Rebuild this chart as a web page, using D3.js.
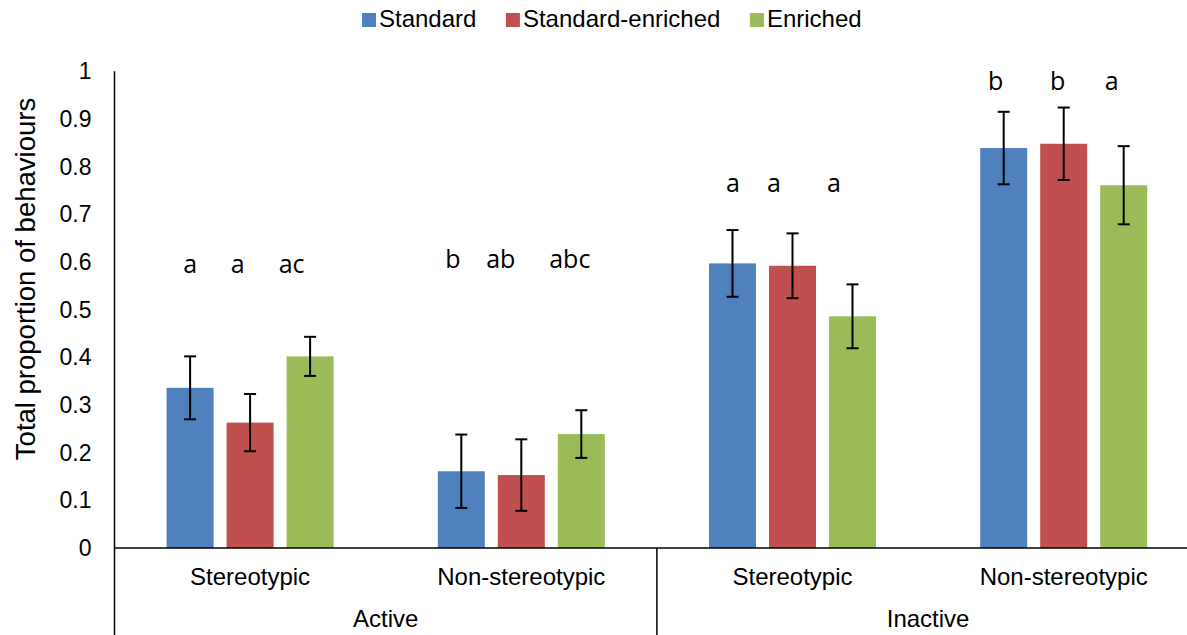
<!DOCTYPE html>
<html>
<head>
<meta charset="utf-8">
<script src="https://cdn.jsdelivr.net/npm/d3@7"></script>
<style>
  html, body { margin: 0; padding: 0; background: #ffffff; }
  svg { display: block; }
</style>
</head>
<body>
<svg id="chart" width="1187" height="635"></svg>
<script>
// Behaviour categories within each activity state
const categories = ["Stereotypic", "Non-stereotypic", "Stereotypic", "Non-stereotypic"];
const states = ["Active", "Active", "Inactive", "Inactive"];
const stateLabels = ["Active", "Inactive"];

// Housing treatments
const seriesNames = ["Standard", "Standard-enriched", "Enriched"];

// Mean total proportion of behaviours
const standard = [0.336, 0.161, 0.597, 0.839];
const standardEnriched = [0.263, 0.153, 0.592, 0.848];
const enriched = [0.402, 0.239, 0.486, 0.761];

// Error bar half-widths
const standardErr = [0.066, 0.077, 0.070, 0.076];
const standardEnrichedErr = [0.060, 0.075, 0.068, 0.076];
const enrichedErr = [0.041, 0.050, 0.067, 0.082];

// Significance letters
const standardLetters = ["a", "b", "a", "b"];
const standardEnrichedLetters = ["a", "ab", "a", "b"];
const enrichedLetters = ["ac", "abc", "a", "a"];

// Y axis ticks
const yTicks = [0, 0.1, 0.2, 0.3, 0.4, 0.5, 0.6, 0.7, 0.8, 0.9, 1];
const yTickLabels = ["0", "0.1", "0.2", "0.3", "0.4", "0.5", "0.6", "0.7", "0.8", "0.9", "1"];

// ---- layout ----
const colors = ["#4F81BD", "#C0504D", "#9BBB59"];
const plotLeft = 114.5, plotRight = 1199.3;
const plotTop = 71.3, plotBottom = 548;
const letterLevel = [0.577, 0.587, 0.746, 0.960];       // baseline height of letters, in axis units
const letterDx = [[0, -12.5, -18.5], [-8.5, -20.5, -11.5], [0.5, -18.5, -18.5], [-8, -6, -12]];
const fontFamily = "'Liberation Sans', Arial, sans-serif";

const values = [standard, standardEnriched, enriched];
const errors = [standardErr, standardEnrichedErr, enrichedErr];
const letters = [standardLetters, standardEnrichedLetters, enrichedLetters];

const svg = d3.select("#chart");
const keys = categories.map((c, i) => states[i] + "|" + c);

const x = d3.scaleBand().domain(keys).range([plotLeft, plotRight]).padding(0);
const xs = d3.scaleBand().domain(seriesNames).range([-90, 90])
  .paddingInner(13 / 60).paddingOuter(6.5 / 60);
const y = d3.scaleLinear().domain([0, 1]).range([plotBottom, plotTop]);

const barData = [];
seriesNames.forEach((s, si) => {
  keys.forEach((k, ci) => {
    barData.push({ s, si, k, ci, v: values[si][ci], e: errors[si][ci], l: letters[si][ci] });
  });
});
const cx = d => x(d.k) + x.bandwidth() / 2 + xs(d.s) + xs.bandwidth() / 2;

// Bars
svg.append("g").selectAll("rect").data(barData).join("rect")
  .attr("x", d => x(d.k) + x.bandwidth() / 2 + xs(d.s))
  .attr("width", xs.bandwidth())
  .attr("y", d => y(d.v))
  .attr("height", d => y(0) - y(d.v))
  .attr("fill", d => colors[d.si]);

// Error bars
const eb = svg.append("g").attr("stroke", "#000").attr("stroke-width", 2).attr("fill", "none");
barData.forEach(d => {
  const c = cx(d), t = y(d.v + d.e), b = y(d.v - d.e);
  eb.append("line").attr("x1", c).attr("x2", c).attr("y1", t).attr("y2", b);
  eb.append("line").attr("x1", c - 6).attr("x2", c + 6).attr("y1", t).attr("y2", t);
  eb.append("line").attr("x1", c - 6).attr("x2", c + 6).attr("y1", b).attr("y2", b);
});

// Significance letters
svg.append("g").selectAll("text").data(barData).join("text")
  .attr("x", d => cx(d) + letterDx[d.ci][d.si])
  .attr("y", d => y(letterLevel[d.ci]))
  .attr("text-anchor", "middle")
  .attr("font-family", "'Open Sans', Lato, sans-serif")
  .attr("font-size", 25)
  .attr("fill", "#000")
  .text(d => d.l);

// Y axis (no tick marks, labels only)
const yAxis = d3.axisLeft(y).tickValues(yTicks)
  .tickFormat((d, i) => yTickLabels[i]).tickSize(0).tickPadding(23);
const gy = svg.append("g").attr("transform", `translate(${plotLeft},0)`).call(yAxis);
gy.select(".domain").remove();
gy.selectAll("text")
  .attr("font-family", fontFamily)
  .attr("font-size", 23).attr("fill", "#000");

// Axis lines
const axes = svg.append("g").attr("stroke", "#000").attr("stroke-width", 1.5);
axes.append("line").attr("x1", plotLeft).attr("x2", plotLeft).attr("y1", plotTop).attr("y2", 635);
axes.append("line").attr("x1", plotLeft).attr("x2", 1187).attr("y1", y(0)).attr("y2", y(0));
// Divider between activity states
stateLabels.forEach((s, i) => {
  const idx = states.lastIndexOf(s);
  const xr = x(keys[idx]) + x.bandwidth();
  axes.append("line").attr("x1", xr).attr("x2", xr).attr("y1", y(0)).attr("y2", 635);
});

// Category labels
svg.append("g").selectAll("text").data(keys).join("text")
  .attr("x", k => x(k) + x.bandwidth() / 2)
  .attr("y", 585)
  .attr("text-anchor", "middle")
  .attr("font-family", fontFamily)
  .attr("font-size", 24).attr("fill", "#000")
  .text((k, i) => categories[i]);

// State labels
svg.append("g").selectAll("text").data(stateLabels).join("text")
  .attr("x", s => {
    const ks = keys.filter((k, i) => states[i] === s);
    return (x(ks[0]) + x(ks[ks.length - 1]) + x.bandwidth()) / 2;
  })
  .attr("y", 627)
  .attr("text-anchor", "middle")
  .attr("font-family", fontFamily)
  .attr("font-size", 24).attr("fill", "#000")
  .text(s => s);

// Y axis title
svg.append("text")
  .attr("transform", "translate(35,279) rotate(-90)")
  .attr("text-anchor", "middle")
  .attr("font-family", fontFamily)
  .attr("font-size", 27.5).attr("fill", "#000")
  .text("Total proportion of behaviours");

// Legend
const legend = svg.append("g");
let lx = 362;
seriesNames.forEach((s, i) => {
  legend.append("rect").attr("x", lx).attr("y", 13).attr("width", 14).attr("height", 14)
    .attr("fill", colors[i]);
  const t = legend.append("text").attr("x", lx + 17).attr("y", 27)
    .attr("font-family", fontFamily)
    .attr("font-size", 24).attr("fill", "#000").text(s);
  lx += 17 + t.node().getComputedTextLength() + 29.5;
});
</script>
</body>
</html>
